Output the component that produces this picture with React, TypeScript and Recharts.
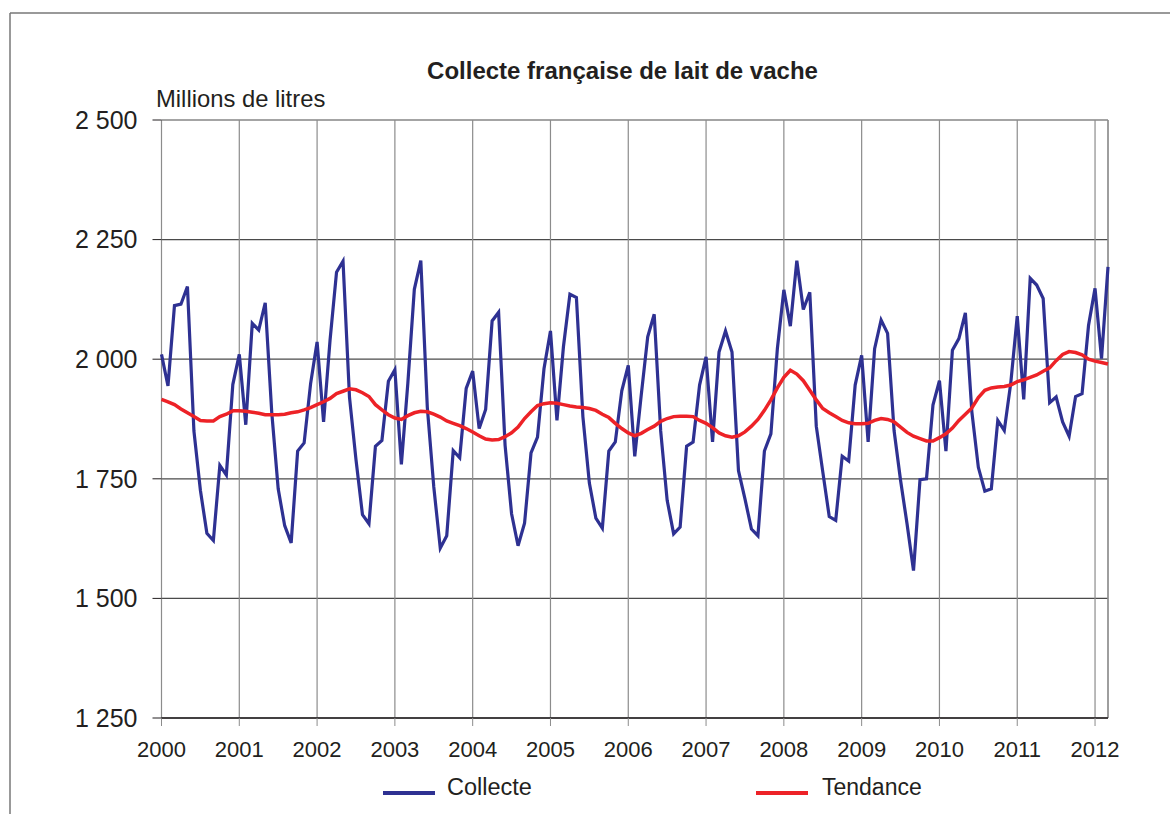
import { LineChart, Line, XAxis, YAxis, CartesianGrid, ReferenceLine } from 'recharts'

// mois de janvier 2000 à mars 2012
const years = ['2000', '2001', '2002', '2003', '2004', '2005', '2006', '2007', '2008', '2009', '2010', '2011', '2012']
const yTicks = [1250, 1500, 1750, 2000, 2250, 2500]

const collecte = [
  2010, 1944, 2112, 2115, 2152, 1850, 1726, 1636, 1621, 1778, 1758, 1947,
  2010, 1863, 2075, 2061, 2118, 1890, 1729, 1652, 1616, 1808, 1825, 1949,
  2036, 1869, 2040, 2182, 2205, 1920, 1790, 1675, 1656, 1818, 1830, 1954,
  1978, 1780, 1950, 2146, 2206, 1900, 1733, 1605, 1631, 1809, 1794, 1939,
  1975, 1855, 1895, 2080, 2098, 1820, 1677, 1610, 1657, 1804, 1837, 1980,
  2059, 1872, 2026, 2136, 2129, 1880, 1741, 1668, 1647, 1808, 1827, 1934,
  1987, 1797, 1925, 2047, 2094, 1850, 1705, 1635, 1649, 1818, 1827, 1946,
  2005, 1827, 2015, 2059, 2015, 1767, 1708, 1645, 1631, 1808, 1844, 2022,
  2145, 2069, 2206, 2104, 2140, 1860, 1765, 1671, 1663, 1797, 1787, 1946,
  2008, 1827, 2022, 2082, 2054, 1851, 1747, 1656, 1558, 1748, 1750, 1904,
  1955, 1808, 2019, 2043, 2097, 1890, 1774, 1724, 1729, 1872, 1851, 1950,
  2090, 1916, 2169, 2155, 2127, 1909, 1921, 1869, 1839, 1922, 1928, 2071,
  2148, 2001, 2193,
]

const tendance = [
  1916, 1911, 1905, 1896, 1888, 1880, 1872, 1871, 1871, 1880, 1885, 1892,
  1892, 1891, 1889, 1887, 1884, 1884, 1884, 1885, 1888, 1890, 1894, 1899,
  1905, 1911, 1918, 1928, 1933, 1938, 1936, 1930, 1922, 1905, 1894, 1884,
  1877, 1874, 1882, 1888, 1891, 1890, 1885, 1879, 1871, 1866, 1861, 1855,
  1848, 1840, 1833, 1831, 1832, 1838, 1846, 1858, 1876, 1890, 1903, 1907,
  1909, 1908, 1905, 1902, 1900, 1899, 1897, 1893, 1885, 1878, 1866, 1855,
  1846, 1840, 1845, 1853, 1860, 1870, 1876, 1880, 1881, 1881, 1880, 1872,
  1866, 1857, 1846, 1840, 1837, 1840, 1848, 1860, 1874, 1893, 1915, 1940,
  1962, 1977, 1969, 1955, 1935, 1915, 1897, 1888, 1880, 1872, 1867, 1865,
  1865, 1866, 1872, 1876, 1874, 1869, 1858, 1847, 1839, 1834, 1829, 1829,
  1836, 1844, 1856, 1872, 1885, 1898, 1920, 1935, 1940, 1942, 1943, 1946,
  1953, 1957, 1962, 1967, 1975, 1982, 1997, 2010, 2016, 2014, 2009, 2000,
  1996, 1993, 1990,
]

const BLUE = '#2e3192'
const RED = '#ed2227'
const INK = '#231f20'
const FONT = '"Liberation Sans", Arial, sans-serif'

const rows = collecte.map((v, i) => ({ t: i, collecte: v, tendance: tendance[i] }))
const lastT = collecte.length - 1
const xTicks = years.map((_, k) => k * 12)

const fmtY = (v: number) => `${Math.floor(v / 1000)} ${String(v % 1000).padStart(3, '0')}`

export default function App() {
  return (
    <div style={{ position: 'absolute', left: 0, top: 0, width: 1170, height: 814, background: '#fff' }}>
      <LineChart
        width={1170}
        height={814}
        data={rows}
        margin={{ top: 120, right: 62, bottom: 66, left: 81.5 }}
      >
        <CartesianGrid vertical={false} stroke="#4a4a4a" strokeWidth={1.2} />
        <CartesianGrid horizontal={false} stroke="#8c8c8c" strokeWidth={1.2} />
        <XAxis
          dataKey="t"
          type="number"
          domain={[0, lastT]}
          ticks={xTicks}
          tickFormatter={(t: number) => years[t / 12]}
          height={30}
          tickSize={8}
          tickMargin={15}
          axisLine={{ stroke: INK, strokeWidth: 1.5 }}
          tickLine={{ stroke: '#8c8c8c' }}
          tick={{ fontSize: 22, fill: INK, fontFamily: FONT }}
        />
        <YAxis
          domain={[1250, 2500]}
          ticks={yTicks}
          width={80}
          tickSize={9}
          tickMargin={15}
          axisLine={false}
          tickLine={{ stroke: INK }}
          tickFormatter={fmtY}
          tick={{ fontSize: 25, fill: INK, fontFamily: FONT }}
        />
        <ReferenceLine x={lastT} stroke="#8c8c8c" strokeWidth={1.2} />
        <Line dataKey="collecte" type="linear" stroke={BLUE} strokeWidth={3.2} dot={false} isAnimationActive={false} />
        <Line dataKey="tendance" type="linear" stroke={RED} strokeWidth={3.5} dot={false} isAnimationActive={false} />
      </LineChart>
      <svg
        width={1170}
        height={814}
        style={{ position: 'absolute', left: 0, top: 0, pointerEvents: 'none' }}
        fontFamily={FONT}
      >
        <line x1={10} y1={13} x2={1170} y2={13} stroke="#777" strokeWidth={1.5} />
        <line x1={10} y1={13} x2={10} y2={814} stroke="#777" strokeWidth={1.5} />
        <text x={622.5} y={79} textAnchor="middle" fontSize={24} fontWeight="bold" fill={INK}>
          Collecte française de lait de vache
        </text>
        <text x={156} y={107} fontSize={23.8} fill={INK}>
          Millions de litres
        </text>
        <line x1={383} y1={793} x2={435} y2={793} stroke={BLUE} strokeWidth={4} />
        <text x={447} y={795} fontSize={23.5} fill={INK}>
          Collecte
        </text>
        <line x1={756} y1={793} x2={808} y2={793} stroke={RED} strokeWidth={4} />
        <text x={822} y={795} fontSize={23} fill={INK}>
          Tendance
        </text>
      </svg>
    </div>
  )
}
